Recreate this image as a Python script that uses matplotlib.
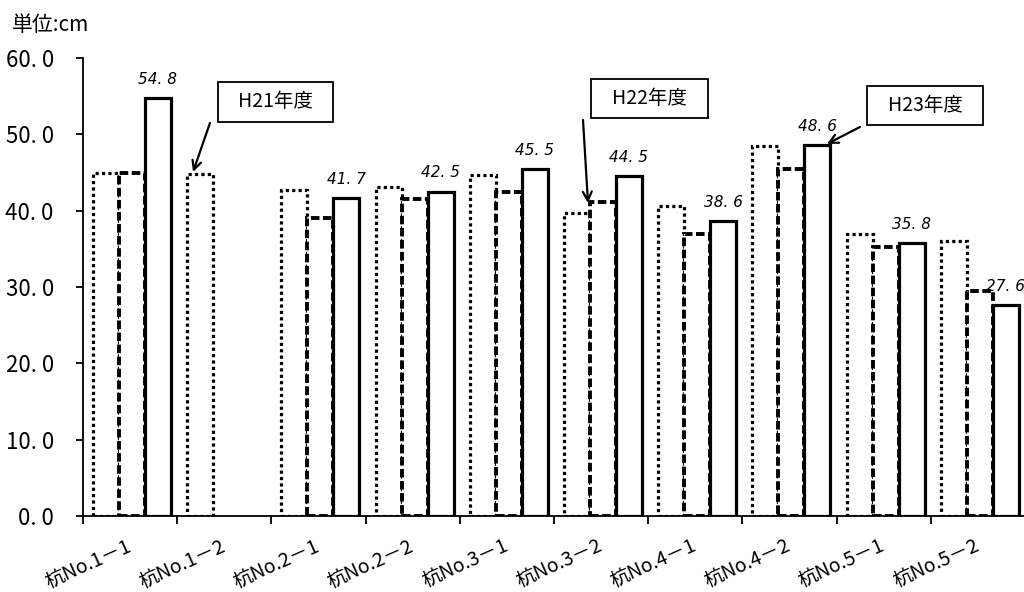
import numpy as np
import matplotlib
matplotlib.use('Agg')
import matplotlib.pyplot as plt
from matplotlib.patches import Rectangle

plt.rcParams['font.family'] = ['Noto Sans CJK JP', 'DejaVu Sans']

# Pile measurements per year (cm)
categories = ['杭No.1－1', '杭No.1－2', '杭No.2－1', '杭No.2－2', '杭No.3－1',
              '杭No.3－2', '杭No.4－1', '杭No.4－2', '杭No.5－1', '杭No.5－2']
h21 = [44.9, 44.8, 42.7, 43.1, 44.7, 39.7, 40.6, 48.5, 37.0, 36.0]
h22 = [44.9, np.nan, 39.0, 41.5, 42.5, 41.1, 37.0, 45.5, 35.2, 29.5]
h23 = [54.8, np.nan, 41.7, 42.5, 45.5, 44.5, 38.6, 48.6, 35.8, 27.6]
series_names = ['H21年度', 'H22年度', 'H23年度']
yticks = [0, 10, 20, 30, 40, 50, 60]
unit_label = '単位:cm'

fig = plt.figure(figsize=(10.24, 5.92), dpi=100)
ax = fig.add_axes([83 / 1024, 76 / 592, 942 / 1024, 458 / 592])

width = 0.276
centers = np.arange(len(categories)) + 0.52
styles = [
    dict(linestyle=(0, (1, 1)), linewidth=2.3),
    dict(linestyle=(0, (2.2, 0.9)), linewidth=2.8),
    dict(linestyle='-', linewidth=2.3),
]
for k, (vals, st) in enumerate(zip([h21, h22, h23], styles)):
    vals = np.asarray(vals, dtype=float)
    ok = ~np.isnan(vals)
    xs = centers[ok] + (k - 1) * width
    ax.bar(xs, vals[ok], width=width, facecolor='white', edgecolor='black',
           zorder=2 + k, **st)

# value labels above the latest year's bars
for x, v in zip(centers + width, h23):
    if np.isnan(v):
        continue
    ax.annotate(f'{v:.1f}'.replace('.', '. '), xy=(x, v), xytext=(0, 8),
                textcoords='offset points', ha='center', va='bottom',
                fontsize=11, fontstyle='italic', family='DejaVu Sans',
                annotation_clip=False, zorder=10)

ax.set_xlim(0, len(categories))
ax.set_ylim(0, 60)
ax.set_yticks(yticks)
ax.set_yticklabels([f'{t:.1f}'.replace('.', '. ') for t in yticks], fontsize=16)
ax.set_xticks(centers - 0.02)
ax.set_xticklabels(categories, rotation=24, ha='right', va='center',
                   rotation_mode='anchor', fontsize=14)
ax.set_xticks(np.arange(len(categories) + 1), minor=True)
ax.tick_params(axis='x', which='major', length=0, pad=21)
ax.tick_params(axis='x', which='minor', length=6, width=1.3, direction='out')
ax.tick_params(axis='y', length=5, width=1.3, direction='out', pad=16)

for s in ['top', 'right']:
    ax.spines[s].set_visible(False)
for s in ['left', 'bottom']:
    ax.spines[s].set_linewidth(1.3)
    ax.spines[s].set_zorder(20)

# year callouts: box, label and arrow
callouts = [
    (series_names[0], (1.433, 51.62, 1.221, 5.24), (1.348, 51.49), (1.168, 45.07)),
    (series_names[1], (5.393, 52.14, 1.242, 5.11), (5.308, 51.88), (5.361, 41.0)),
    (series_names[2], (8.323, 51.22, 1.231, 5.11), (8.248, 50.96), (7.898, 48.74)),
]
for name, (bx, by, bw, bh), tail, head in callouts:
    ax.add_patch(Rectangle((bx, by), bw, bh, facecolor='white', edgecolor='black',
                           linewidth=1.3, zorder=15, clip_on=False))
    ax.text(bx + bw / 2, by + bh / 2, name, ha='center', va='center',
            fontsize=14, zorder=16, clip_on=False)
    ax.annotate('', xy=head, xytext=tail,
                arrowprops=dict(arrowstyle='->', lw=1.6, color='black',
                                shrinkA=0, shrinkB=0, mutation_scale=16),
                zorder=16, annotation_clip=False)

fig.text(12 / 1024, 1 - 25 / 592, unit_label, ha='left', va='center', fontsize=15)

fig.savefig('out.png', dpi=100)
